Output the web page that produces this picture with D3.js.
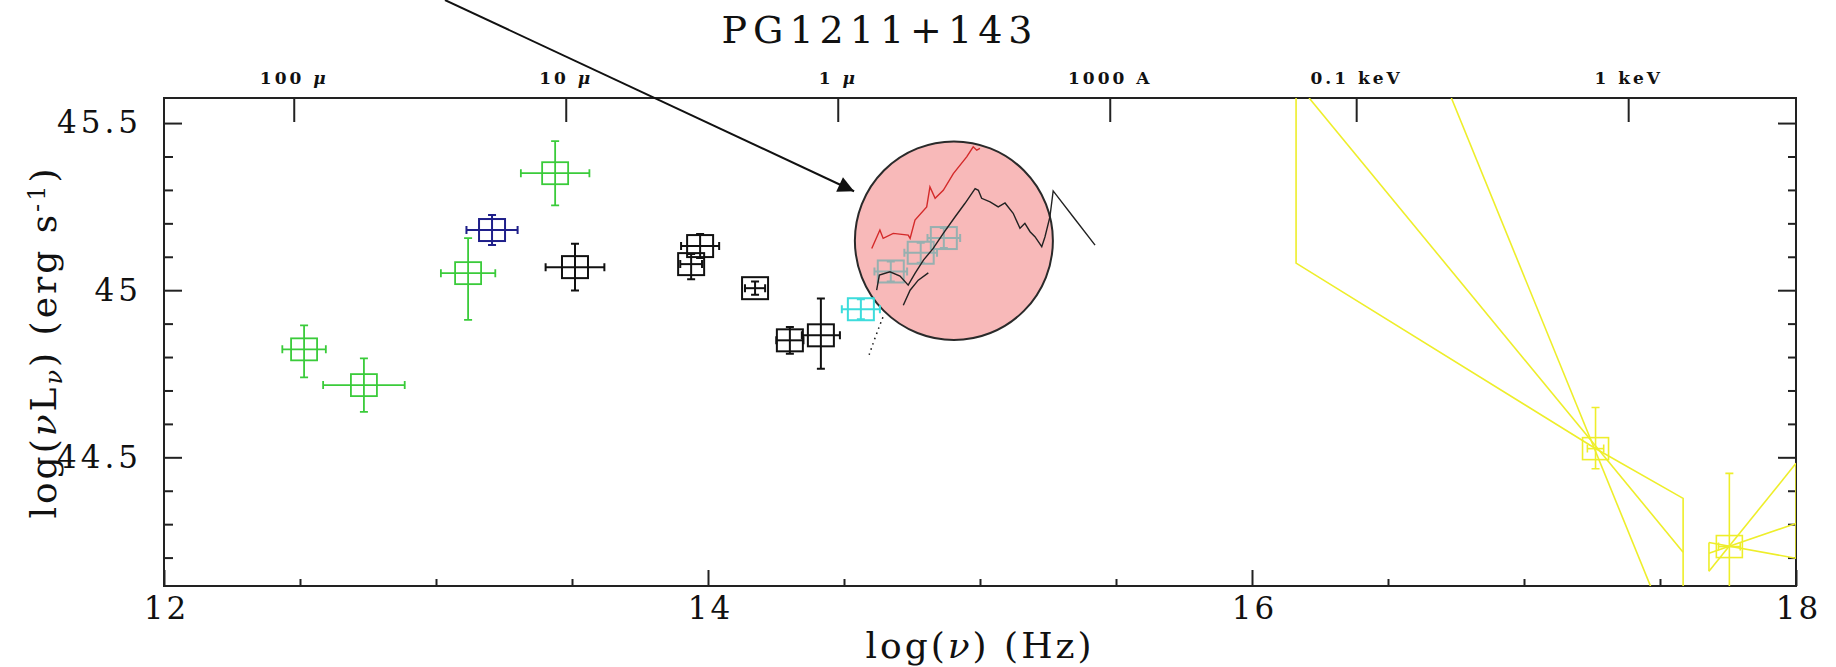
<!DOCTYPE html>
<html>
<head>
<meta charset="utf-8">
<script src="https://cdnjs.cloudflare.com/ajax/libs/d3/7.8.5/d3.min.js"></script>
<style>
  body { margin: 0; background: #fff; }
  svg text { font-family: 'DejaVu Serif', serif; fill: #111; }
</style>
</head>
<body>
<div id="chart"></div>
<script>
"use strict";

// axes: log(nu) in Hz, log(nu L_nu) in erg/s
const xDomain = [12, 18];
const yDomain = [44.115, 45.575];
const xMajorTicks = [12, 14, 16, 18];
const xMinorTicks = [12.5, 13, 13.5, 14.5, 15, 15.5, 16.5, 17, 17.5];
const yMajorTicks = [44.5, 45, 45.5];
const yMinorTicks = [44.2, 44.3, 44.4, 44.6, 44.7, 44.8, 44.9, 45.1, 45.2, 45.3, 45.4];
const topTickValues = [12.477, 13.477, 14.477, 15.477, 16.383, 17.383];
const topTickLabels = ['100 μ', '10 μ', '1 μ', '1000 A', '0.1 keV', '1 keV'];

// photometry: [x, y, xErr, yErrDown, yErrUp]
const greenPts = [
  [12.515, 44.823, 0.080, 0.084, 0.072],
  [12.735, 44.716, 0.150, 0.080, 0.080],
  [13.118, 45.051, 0.100, 0.140, 0.105],
  [13.438, 45.350, 0.126, 0.096, 0.096]
];
const bluePts = [
  [13.206, 45.180, 0.094, 0.045, 0.045]
];
const blackPts = [
  [13.511, 45.069, 0.108, 0.070, 0.070],
  [13.971, 45.132, 0.070, 0.036, 0.036],
  [13.938, 45.078, 0.040, 0.045, 0.030],
  [14.173, 45.006, 0.037, 0.020, 0.020],
  [14.301, 44.850, 0.050, 0.040, 0.040],
  [14.415, 44.865, 0.070, 0.100, 0.110]
];
const cyanPts = [
  [14.562, 44.943, 0.070, 0.030, 0.030]
];
const grayPts = [
  [14.672, 45.056, 0.060, 0.030, 0.030],
  [14.782, 45.112, 0.060, 0.030, 0.030],
  [14.867, 45.156, 0.060, 0.030, 0.030]
];
const xrayPts = [
  [17.263, 44.526, 0.030, 0.060, 0.123],
  [17.755, 44.233, 0.040, 0.200, 0.219]
];

// optical/UV spectra
const redSpectrum = [
  [14.602, 45.125], [14.632, 45.180], [14.644, 45.155], [14.681, 45.170],
  [14.736, 45.165], [14.743, 45.155], [14.761, 45.210], [14.804, 45.249],
  [14.816, 45.309], [14.835, 45.275], [14.865, 45.299], [14.902, 45.349],
  [14.951, 45.399], [14.975, 45.429], [14.988, 45.419], [15.000, 45.424]
];
const blackSpectrum = [
  [14.620, 45.000], [14.630, 45.045], [14.669, 45.055], [14.706, 45.042],
  [14.736, 45.015], [14.761, 45.050], [14.792, 45.090], [14.828, 45.125],
  [14.865, 45.170], [14.908, 45.219], [14.945, 45.260], [14.982, 45.304],
  [14.994, 45.299], [15.006, 45.275], [15.037, 45.264], [15.067, 45.249],
  [15.092, 45.261], [15.122, 45.230], [15.147, 45.185], [15.165, 45.200],
  [15.184, 45.175], [15.202, 45.160], [15.227, 45.130], [15.239, 45.160],
  [15.257, 45.219], [15.269, 45.297], [15.343, 45.219], [15.423, 45.135]
];
const blackSpectrum2 = [
  [14.718, 44.955], [14.743, 45.000], [14.773, 45.030], [14.810, 45.052]
];
const dottedTail = [
  [14.643, 44.919], [14.615, 44.860], [14.588, 44.796]
];

// X-ray power-law bow ties
const xrayLines = [
  [[16.162, 45.62], [16.162, 45.081], [17.261, 44.527], [17.585, 44.377], [17.585, 44.0]],
  [[16.210, 45.575], [17.585, 44.216]],
  [[16.733, 45.575], [17.467, 44.111]],
  [[17.680, 44.159], [18.0, 44.482]],
  [[17.680, 44.245], [18.0, 44.198]],
  [[17.680, 44.213], [18.0, 44.302]],
  [[17.680, 44.245], [17.680, 44.159]],
  [[18.0, 44.482], [18.0, 44.198]]
];

// annotation
const circleCenter = [14.904, 45.148];
const circleRadius = [0.364, 0.297];
const arrowStart = [13.033, 45.868];
const arrowEnd = [14.537, 45.296];

const W = 1836, H = 667;
const margin = { top: 98, right: 40, bottom: 81, left: 164 };
const width = W - margin.left - margin.right;
const height = H - margin.top - margin.bottom;

const svg = d3.select('#chart').append('svg')
  .attr('width', W)
  .attr('height', H);

const defs = svg.append('defs');
defs.append('clipPath').attr('id', 'plotClip')
  .append('rect').attr('width', width).attr('height', height);
defs.append('marker')
  .attr('id', 'arrowHead')
  .attr('viewBox', '0 0 10 10')
  .attr('refX', 10).attr('refY', 5)
  .attr('markerWidth', 10).attr('markerHeight', 8)
  .attr('markerUnits', 'strokeWidth')
  .attr('orient', 'auto')
  .append('path').attr('d', 'M0,0 L10,5 L0,10 Z').attr('fill', '#111');

const g = svg.append('g')
  .attr('transform', `translate(${margin.left},${margin.top})`);

const x = d3.scaleLinear().domain(xDomain).range([0, width]);
const y = d3.scaleLinear().domain(yDomain).range([height, 0]);

const styleAxis = (sel) => {
  sel.select('.domain').remove();
  sel.selectAll('line').attr('stroke', '#222').attr('stroke-width', 2);
};

// bottom
g.append('g').attr('transform', `translate(0,${height})`)
  .call(d3.axisBottom(x).tickValues(xMinorTicks).tickSize(-7).tickFormat(''))
  .call(styleAxis);
g.append('g').attr('transform', `translate(0,${height})`)
  .call(d3.axisBottom(x).tickValues(xMajorTicks).tickSize(-16).tickPadding(11).tickFormat(d3.format('d')))
  .call(styleAxis)
  .call(a => a.selectAll('text').attr('font-size', 31).attr('letter-spacing', 3).attr('dx', 2));

// left
g.append('g')
  .call(d3.axisLeft(y).tickValues(yMinorTicks).tickSize(-9).tickFormat(''))
  .call(styleAxis);
g.append('g')
  .call(d3.axisLeft(y).tickValues(yMajorTicks).tickSize(-18).tickPadding(22).tickFormat(d => d3.format('.1f')(d).replace('.0', '')))
  .call(styleAxis)
  .call(a => a.selectAll('text').attr('font-size', 31).attr('letter-spacing', 4));

// right
g.append('g').attr('transform', `translate(${width},0)`)
  .call(d3.axisRight(y).tickValues(yMinorTicks).tickSize(-8).tickFormat(''))
  .call(styleAxis);
g.append('g').attr('transform', `translate(${width},0)`)
  .call(d3.axisRight(y).tickValues(yMajorTicks).tickSize(-18).tickFormat(''))
  .call(styleAxis);

// top: wavelength / energy
g.append('g')
  .call(d3.axisTop(x).tickValues(topTickValues).tickSize(-24).tickPadding(14)
    .tickFormat((d, i) => topTickLabels[i]))
  .call(styleAxis)
  .call(a => a.selectAll('text')
    .attr('font-family', "'Liberation Serif', serif")
    .attr('font-weight', 'bold')
    .attr('font-size', 17)
    .attr('letter-spacing', 3)
    .each(function () {
      const t = d3.select(this);
      const parts = t.text().split(' ');
      t.text(null);
      t.append('tspan').text(parts[0] + ' ');
      t.append('tspan').text(' ' + parts[1])
        .attr('font-style', parts[1] === 'μ' ? 'italic' : null);
    }));

// frame
g.append('rect')
  .attr('width', width).attr('height', height)
  .attr('fill', 'none').attr('stroke', '#222').attr('stroke-width', 2);

// highlight circle
g.append('ellipse')
  .attr('cx', x(circleCenter[0])).attr('cy', y(circleCenter[1]))
  .attr('rx', x(circleCenter[0] + circleRadius[0]) - x(circleCenter[0]))
  .attr('ry', y(circleCenter[1] - circleRadius[1]) - y(circleCenter[1]))
  .attr('fill', '#f8b9b9')
  .attr('stroke', '#2a2a2a').attr('stroke-width', 2);

const line = d3.line().x(d => x(d[0])).y(d => y(d[1]));

const plot = g.append('g').attr('clip-path', 'url(#plotClip)');

// X-ray bow ties
plot.append('g').selectAll('path')
  .data(xrayLines)
  .enter().append('path')
    .attr('d', line)
    .attr('fill', 'none')
    .attr('stroke', '#eeee2a')
    .attr('stroke-width', 1.6);

const drawPoints = (data, colour, sw) => {
  const pts = plot.append('g').selectAll('g')
    .data(data)
    .enter().append('g')
      .attr('stroke', colour)
      .attr('stroke-width', sw)
      .attr('fill', 'none');
  const cap = 4;
  pts.append('line')
    .attr('x1', d => x(d[0] - d[2])).attr('x2', d => x(d[0] + d[2]))
    .attr('y1', d => y(d[1])).attr('y2', d => y(d[1]));
  pts.append('line')
    .attr('x1', d => x(d[0])).attr('x2', d => x(d[0]))
    .attr('y1', d => y(d[1] - d[3])).attr('y2', d => y(d[1] + d[4]));
  pts.append('path')
    .attr('d', d => {
      const px = x(d[0]), py = y(d[1]);
      const xl = x(d[0] - d[2]), xr = x(d[0] + d[2]);
      const yb = y(d[1] - d[3]), yt = y(d[1] + d[4]);
      return `M${xl},${py - cap}V${py + cap}M${xr},${py - cap}V${py + cap}` +
        `M${px - cap},${yb}H${px + cap}M${px - cap},${yt}H${px + cap}`;
    });
  pts.append('rect')
    .attr('x', d => x(d[0]) - 13).attr('y', d => y(d[1]) - 11)
    .attr('width', 26).attr('height', 22);
};

drawPoints(xrayPts, '#eeee2a', 1.6);
drawPoints(greenPts, '#3acb3a', 1.8);
drawPoints(bluePts, '#1f1f8a', 2);
drawPoints(blackPts, '#111', 2);
drawPoints(cyanPts, '#3ddcdc', 2);

// spectra
plot.append('path').datum(dottedTail)
  .attr('d', d3.line().curve(d3.curveBasis).x(d => x(d[0])).y(d => y(d[1])))
  .attr('fill', 'none').attr('stroke', '#111').attr('stroke-width', 1.5)
  .attr('stroke-dasharray', '1.5,4');

drawPoints(grayPts, '#97b0b0', 2);

plot.append('path').datum(redSpectrum)
  .attr('d', line).attr('fill', 'none')
  .attr('stroke', '#d42a2a').attr('stroke-width', 1.4);
plot.append('path').datum(blackSpectrum)
  .attr('d', line).attr('fill', 'none')
  .attr('stroke', '#222').attr('stroke-width', 1.4);
plot.append('path').datum(blackSpectrum2)
  .attr('d', line).attr('fill', 'none')
  .attr('stroke', '#222').attr('stroke-width', 1.4);

// arrow pointing to the spectrum
g.append('line')
  .attr('x1', x(arrowStart[0])).attr('y1', y(arrowStart[1]))
  .attr('x2', x(arrowEnd[0])).attr('y2', y(arrowEnd[1]))
  .attr('stroke', '#111').attr('stroke-width', 2)
  .attr('marker-end', 'url(#arrowHead)');

// title
svg.append('text')
  .attr('x', 880).attr('y', 43)
  .attr('text-anchor', 'middle')
  .attr('font-size', 38)
  .attr('letter-spacing', 6)
  .text('PG1211+143');

// x label
const xl = svg.append('text')
  .attr('x', margin.left + width / 2).attr('y', 658)
  .attr('text-anchor', 'middle')
  .attr('font-size', 36)
  .attr('letter-spacing', 3);
xl.append('tspan').text('log(');
xl.append('tspan').attr('font-style', 'italic').text('ν');
xl.append('tspan').text(')  (Hz)');

// y label
const yl = svg.append('text')
  .attr('transform', `translate(56,${margin.top + height / 2}) rotate(-90)`)
  .attr('text-anchor', 'middle')
  .attr('font-size', 36)
  .attr('letter-spacing', 3);
yl.append('tspan').text('log(');
yl.append('tspan').attr('font-style', 'italic').text('ν');
yl.append('tspan').text('L');
yl.append('tspan').attr('font-style', 'italic').attr('font-size', 24).attr('baseline-shift', '-25%').text('ν');
yl.append('tspan').text(')  (erg s');
yl.append('tspan').attr('font-size', 24).attr('baseline-shift', '45%').text('-1');
yl.append('tspan').text(')');
</script>
</body>
</html>
